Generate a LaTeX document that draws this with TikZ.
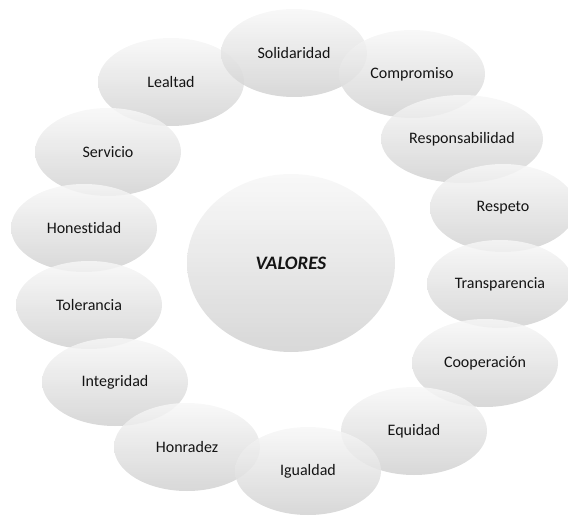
\documentclass[tikz,border=0pt]{standalone}
\usepackage{fontspec}
\setmainfont{Carlito}[Ligatures=NoCommon]
\usetikzlibrary{shapes.geometric}

\tikzset{
  valor/.style={ellipse, inner sep=0pt, minimum width=146pt, minimum height=88pt,
    top color=black!3, bottom color=black!18, fill opacity=0.85, text opacity=1,
    text=black!92, font=\fontsize{16}{18}\selectfont},
  centro/.style={valor, minimum width=208pt, minimum height=178pt,
    font=\fontsize{19}{21}\selectfont\bfseries\itshape}
}

\begin{document}
\begin{tikzpicture}[x=1pt,y=-1pt]
    \useasboundingbox (0,0) rectangle (568,516);
    \node[centro] (valores) at (291,263) {VALORES};
    % edit here for the ring of values: x/y/width/text
    \foreach \px/\py/\w/\txt [count=\i] in {
        171/82/146/Lealtad, 294/53/146/Solidaridad, 412/74/146/Compromiso,
        108/152/146/Servicio, 462/139/162/Responsabilidad, 84/228/146/Honestidad,
        503/208/146/Respeto, 89/305/146/Tolerancia, 500/284/146/Transparencia,
        115/382/146/Integridad, 485/363/146/Cooperación, 187/447/146/Honradez,
        414/431/146/Equidad, 308/471/146/Igualdad}
        \node[valor, minimum width=\w pt] (v\i) at (\px,\py) {\txt};
\end{tikzpicture}
\end{document}
